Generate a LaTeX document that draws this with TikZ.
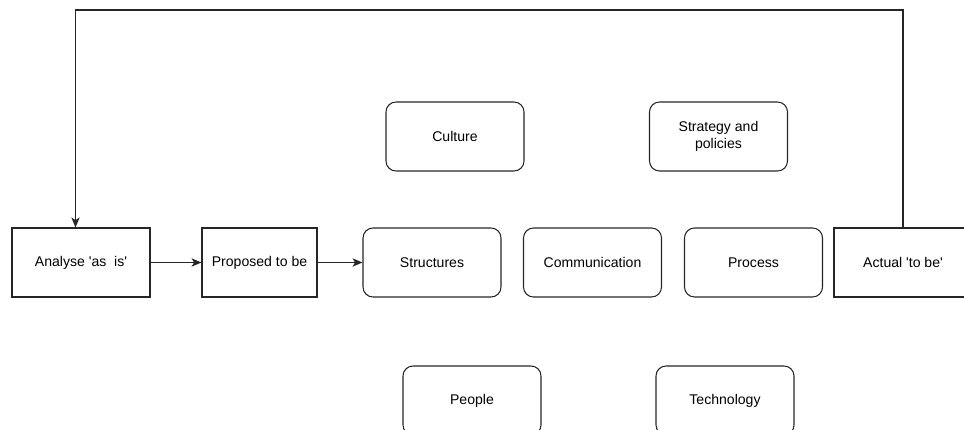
\documentclass[tikz,border=0pt]{standalone}
\usepackage{fontspec}
\setmainfont{Liberation Sans}
\usetikzlibrary{arrows.meta}
\tikzstyle{StageNode}=[rectangle, draw=black!85, line width=0.9pt, minimum width=4.14cm, minimum height=2.07cm, align=center, font=\fontsize{12}{14.5}\selectfont]
\tikzstyle{ShortStageNode}=[StageNode, minimum width=3.45cm]
\tikzstyle{AreaNode}=[StageNode, rounded corners=0.3cm]
\tikzstyle{FlowEdge}=[-{Stealth[length=0.3cm, width=0.25cm, inset=0.08cm]}, draw=black!85, line width=0.9pt]

\begin{document}
\begin{tikzpicture}[x=0.03cm, y=-0.03cm]
\useasboundingbox (0,0) rectangle (964,430);
\node[StageNode](Analyse) at (81,262.5) {Analyse \textquotesingle as\ \ is\textquotesingle};
\node[ShortStageNode](Proposed) at (259.5,262.5) {Proposed to be};
\node[AreaNode](Structures) at (432,262.5) {Structures};
\node[AreaNode](Communication) at (592.5,262.5) {Communication};
\node[AreaNode](Process) at (753.5,262.5) {Process};
\node[StageNode](Actual) at (903,262.5) {Actual \textquotesingle to be\textquotesingle};

\node[AreaNode](Culture) at (455,136.5) {Culture};
\node[AreaNode](Strategy) at (718.5,136.5) {Strategy and\\policies};
\node[AreaNode](People) at (472,400.5) {People};
\node[AreaNode](Technology) at (725,400.5) {Technology};

\coordinate (TopLeft) at (75.5,10);

\draw[FlowEdge](Analyse) -- (Proposed);
\draw[FlowEdge](Proposed) -- (Structures);
\draw[FlowEdge](Actual.north) |- (TopLeft) -- (Analyse.north -| TopLeft);
\end{tikzpicture}
\end{document}
